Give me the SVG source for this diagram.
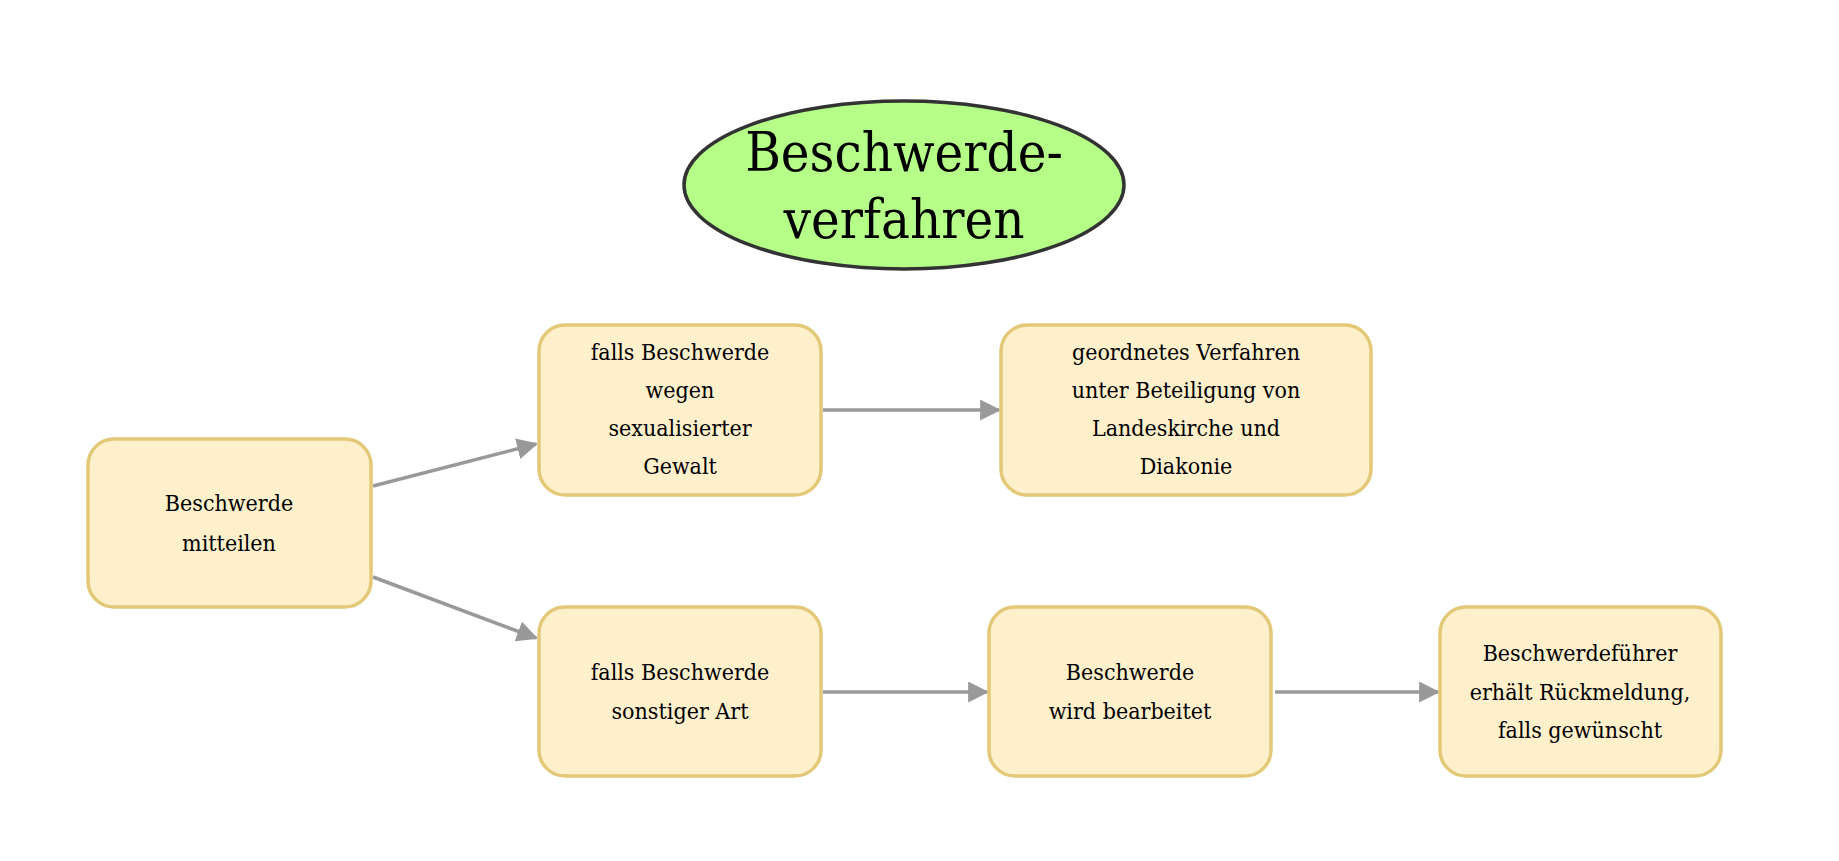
<svg xmlns="http://www.w3.org/2000/svg" width="1839" height="861" viewBox="0 0 1839 861">
<style>
.box{fill:#fff0cc;stroke:#e3c878;stroke-width:3.5}
.t{font-family:"DejaVu Serif Condensed","DejaVu Serif",serif;font-size:23px;text-anchor:middle;fill:#000}
.c{stroke:#999;stroke-width:3.5;fill:none;marker-end:url(#a)}
</style>
<defs><marker id="a" viewBox="0 0 10 10" refX="9" refY="5" markerWidth="6" markerHeight="6" markerUnits="strokeWidth" orient="auto"><path d="M0,0L10,5L0,10z" fill="#999"/></marker></defs>
<rect width="1839" height="861" fill="#fff"/>
<g id="connectors">
<line class="c" x1="373" y1="486" x2="536" y2="444"/>
<line class="c" x1="373" y1="577" x2="536" y2="638"/>
<line class="c" x1="823" y1="410" x2="999" y2="410"/>
<line class="c" x1="823" y1="692" x2="987" y2="692"/>
<line class="c" x1="1275" y1="692" x2="1438" y2="692"/>
</g>
<g id="title"><ellipse cx="904" cy="185" rx="220" ry="84" fill="#b5ff88" stroke="#333" stroke-width="3.5"/>
<text x="904" y="171" style="font-family:'DejaVu Serif Condensed','DejaVu Serif',serif;font-size:54px;text-anchor:middle">Beschwerde-</text>
<text x="904" y="238" style="font-family:'DejaVu Serif Condensed','DejaVu Serif',serif;font-size:54px;text-anchor:middle">verfahren</text></g>
<g id="n1"><rect class="box" x="88" y="439" width="283" height="168" rx="26"/>
<text class="t" x="229" y="511">Beschwerde</text><text class="t" x="229" y="551">mitteilen</text></g>
<g id="n2"><rect class="box" x="539" y="325" width="282" height="170" rx="26"/>
<text class="t" x="680" y="360">falls Beschwerde</text><text class="t" x="680" y="398">wegen</text><text class="t" x="680" y="436">sexualisierter</text><text class="t" x="680" y="474">Gewalt</text></g>
<g id="n3"><rect class="box" x="1001" y="325" width="370" height="170" rx="26"/>
<text class="t" x="1186" y="360">geordnetes Verfahren</text><text class="t" x="1186" y="398">unter Beteiligung von</text><text class="t" x="1186" y="436">Landeskirche und</text><text class="t" x="1186" y="474">Diakonie</text></g>
<g id="n4"><rect class="box" x="539" y="607" width="282" height="169" rx="26"/>
<text class="t" x="680" y="680">falls Beschwerde</text><text class="t" x="680" y="719">sonstiger Art</text></g>
<g id="n5"><rect class="box" x="989" y="607" width="282" height="169" rx="26"/>
<text class="t" x="1130" y="680">Beschwerde</text><text class="t" x="1130" y="719">wird bearbeitet</text></g>
<g id="n6"><rect class="box" x="1440" y="607" width="281" height="169" rx="26"/>
<text class="t" x="1580" y="661">Beschwerdeführer</text><text class="t" x="1580" y="700">erhält Rückmeldung,</text><text class="t" x="1580" y="738">falls gewünscht</text></g>
</svg>
